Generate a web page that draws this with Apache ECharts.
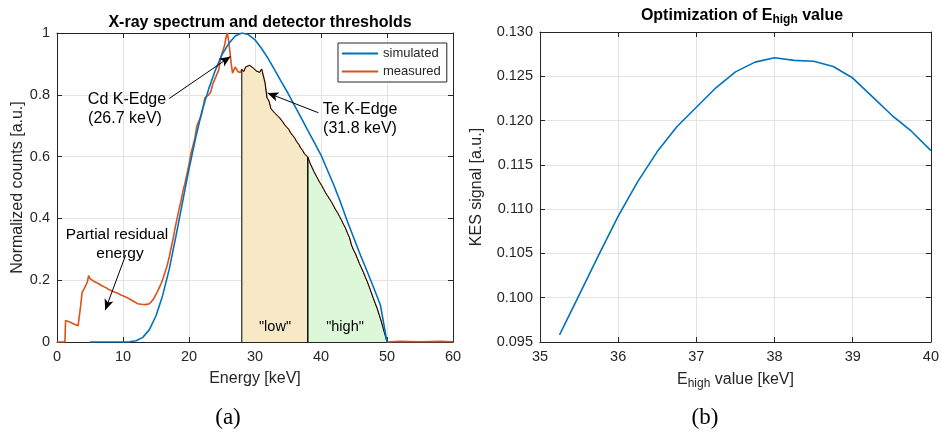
<!DOCTYPE html>
<html>
<head>
<meta charset="utf-8">
<script src="https://cdn.jsdelivr.net/npm/echarts@6/dist/echarts.min.js"></script>
<style>html,body{margin:0;padding:0;background:#fff}#chart{width:942px;height:436px}</style>
</head>
<body>
<div id="chart"></div>
<script>
// simulated spectrum (blue)
const simEnergy = [5,6,7,8,9,10,11,12,13,14,15,16,17,18,19,20,21,22,23,24,25,26,27,28,29,30,31,32,33,34,35,36,37,38,39,40,41,42,43,44,45,46,47,48,49,50];
const simCounts = [0,0,0,0,0,0,0.001,0.004,0.015,0.04,0.085,0.15,0.235,0.34,0.45,0.56,0.66,0.75,0.82,0.88,0.93,0.965,0.99,1.0,0.995,0.978,0.95,0.917,0.88,0.842,0.805,0.765,0.725,0.685,0.645,0.605,0.555,0.505,0.45,0.39,0.335,0.28,0.228,0.175,0.12,0];

// measured spectrum (orange)
const measEnergy = [0,0.5,1.2,1.3,1.6,2.0,2.4,2.8,3.2,3.4,3.6,3.8,4.1,4.4,4.6,4.8,5.0,5.3,5.6,5.9,6.2,6.5,6.8,7.1,7.4,7.7,8.0,8.3,8.6,8.9,9.2,9.5,9.8,10.1,10.4,10.7,11.0,11.3,11.6,11.9,12.2,12.5,12.8,13.1,13.4,13.7,14.0,14.3,14.6,14.9,15.2,15.5,15.8,16.1,16.4,16.7,17.0,17.3,17.6,17.9,18.2,18.5,18.8,19.1,19.4,19.7,20.0,20.3,20.6,20.9,21.2,21.5,21.8,22.1,22.4,22.7,23.0,23.3,23.6,23.9,24.2,24.5,24.8,25.1,25.4,25.6,25.8,26.0,26.2,26.4,26.6,26.8,27.0,27.2,27.4,27.6,27.8,
  28.0,28.3,28.6,28.9,29.2,29.5,29.8,30.1,30.4,30.7,31.0,31.3,31.5,31.8,32.1,32.4,32.7,33.0,33.3,33.6,33.9,34.2,34.5,34.8,35.1,35.4,35.7,36.0,36.3,36.6,36.9,37.2,37.5,37.8,38.0,
  38.3,38.6,38.9,39.2,39.5,39.8,40.1,40.4,40.7,41.0,41.3,41.6,41.9,42.2,42.5,42.8,43.1,43.4,43.7,44.0,44.3,44.6,44.9,45.2,45.5,45.8,46.1,46.4,46.7,47.0,47.3,47.6,47.9,48.2,48.5,48.8,49.1,49.4,49.7,50.0,52,55,58,60];
const measCounts = [0,0,0,0.07,0.068,0.064,0.06,0.056,0.053,0.058,0.12,0.16,0.172,0.185,0.195,0.215,0.205,0.202,0.196,0.2,0.19,0.192,0.182,0.18,0.176,0.172,0.168,0.17,0.163,0.165,0.158,0.155,0.151,0.148,0.146,0.141,0.139,0.134,0.132,0.126,0.124,0.12,0.122,0.118,0.121,0.117,0.124,0.13,0.138,0.15,0.162,0.176,0.19,0.208,0.228,0.248,0.275,0.305,0.335,0.37,0.4,0.43,0.458,0.49,0.515,0.545,0.575,0.61,0.635,0.66,0.7,0.715,0.73,0.755,0.79,0.79,0.8,0.81,0.835,0.85,0.855,0.88,0.92,0.94,0.96,0.985,1.0,0.975,0.94,0.9,0.87,0.865,0.89,0.895,0.875,0.87,0.872,
  0.882,0.875,0.89,0.885,0.895,0.898,0.885,0.878,0.884,0.872,0.883,0.878,0.84,0.79,0.78,0.755,0.75,0.74,0.735,0.728,0.722,0.712,0.702,0.695,0.688,0.676,0.668,0.66,0.648,0.64,0.628,0.62,0.608,0.61,0.598,
  0.58,0.566,0.552,0.54,0.528,0.516,0.506,0.494,0.482,0.472,0.462,0.452,0.44,0.428,0.418,0.406,0.394,0.38,0.368,0.352,0.338,0.314,0.298,0.286,0.27,0.254,0.24,0.226,0.21,0.195,0.178,0.16,0.142,0.125,0.108,0.088,0.068,0.045,0.022,0,0.002,0.001,0.002,0.001];

// detector thresholds [keV]
const thresholds = [28, 38, 50];

// optimization of E_high
const eHigh = [35.25,35.5,35.75,36,36.25,36.5,36.75,37,37.25,37.5,37.75,38,38.25,38.5,38.75,39,39.25,39.5,39.75,40];
const kesSignal = [0.0958,0.1003,0.1048,0.1092,0.1131,0.1165,0.1193,0.1215,0.1237,0.1255,0.1266,0.1271,0.1268,0.1267,0.1261,0.1248,0.1227,0.1206,0.1188,0.1166];

const FONT = 'Liberation Sans, Arial, sans-serif';
const AX = '#262626';

function zip(a, b) { return a.map((v, i) => [v, b[i]]); }
function band(lo, hi) {
  let pts = [[lo, 0]];
  measEnergy.forEach((e, i) => { if (e >= lo && e <= hi) pts.push([e, measCounts[i]]); });
  pts.push([hi, 0]);
  return pts;
}

function axisPair(grid, min, max, interval, name, nameGap, fmt, isX) {
  const main = {
    type: 'value', gridIndex: grid, min: min, max: max, interval: interval,
    position: isX ? 'bottom' : 'left',
    axisLine: {show: true, onZero: false, lineStyle: {color: AX, width: 1}},
    axisTick: {show: true, inside: true, length: 5, lineStyle: {color: AX}},
    axisLabel: {color: AX, fontSize: 14.5, fontFamily: FONT, margin: 7, formatter: fmt},
    splitLine: {show: true, lineStyle: {color: '#e3e3e3', width: 1}},
    name: name, nameLocation: 'middle', nameGap: nameGap,
    nameTextStyle: {color: AX, fontSize: 16, fontFamily: FONT,
      rich: {
        a: {fontSize: 16, fontFamily: FONT, color: AX, verticalAlign: 'top', lineHeight: 18},
        s: {fontSize: 12, fontFamily: FONT, color: AX, verticalAlign: 'bottom', lineHeight: 13, padding: [9, 0, 0, 0]}
      }}
  };
  const other = {
    type: 'value', gridIndex: grid, min: min, max: max, interval: interval,
    position: isX ? 'top' : 'right',
    axisLine: {show: true, onZero: false, lineStyle: {color: AX, width: 1}},
    axisTick: {show: true, inside: true, length: 5, lineStyle: {color: AX}},
    axisLabel: {show: false}, splitLine: {show: false}
  };
  return [main, other];
}

const chart = echarts.init(document.getElementById('chart'));

const xA = axisPair(0, 0, 60, 10, 'Energy [keV]', 29, null, true)
  .concat(axisPair(1, 35, 40, 1, '{a|E}{s|high}{a| value [keV]}', 26, null, true));
const yA = axisPair(0, 0, 1, 0.2, 'Normalized counts [a.u.]', 31, null, false)
  .concat(axisPair(1, 0.095, 0.13, 0.005, 'KES signal [a.u.]', 55, v => v.toFixed(3), false));

const arrowStyle = {color: '#000', width: 1, type: 'solid'};
const annFont = '16px ' + FONT;

const option = {
  animation: false,
  backgroundColor: '#fff',
  textStyle: {fontFamily: FONT},
  title: [
    {text: 'X-ray spectrum and detector thresholds', left: 255, top: 10, textAlign: 'center',
     textStyle: {fontSize: 16, fontWeight: 'bold', color: '#000', fontFamily: FONT}},
    {text: '{a|Optimization of E}{s|high}{a| value}', left: 737, top: 3, textAlign: 'center',
     textStyle: {rich: {
       a: {fontSize: 16, fontWeight: 'bold', color: '#000', fontFamily: FONT, verticalAlign: 'top', lineHeight: 18},
       s: {fontSize: 12, fontWeight: 'bold', color: '#000', fontFamily: FONT, verticalAlign: 'bottom', lineHeight: 13, padding: [9, 0, 0, 0]}
     }}}
  ],
  grid: [
    {left: 57, top: 33, width: 396, height: 309},
    {left: 540, top: 32, width: 396, height: 310}
  ],
  xAxis: xA,
  yAxis: yA,
  legend: {
    data: ['simulated', 'measured'], left: 338, top: 43, orient: 'vertical',
    backgroundColor: '#fff', borderColor: AX, borderWidth: 1, padding: [4, 6, 4, 4],
    itemGap: 5, itemWidth: 36, itemHeight: 2, icon: 'rect',
    textStyle: {fontSize: 13, color: AX, fontFamily: FONT}
  },
  series: [
    {name: 'measured', type: 'line', xAxisIndex: 0, yAxisIndex: 0, data: zip(measEnergy, measCounts),
     symbol: 'none', color: '#D95319', lineStyle: {width: 1.6, color: '#D95319'}, z: 2},
    {name: 'low', type: 'line', xAxisIndex: 0, yAxisIndex: 0, data: band(thresholds[0], thresholds[1]),
     symbol: 'none', lineStyle: {width: 1, color: '#000'}, areaStyle: {color: '#f8e9c6', opacity: 1}, z: 3},
    {name: 'high', type: 'line', xAxisIndex: 0, yAxisIndex: 0, data: band(thresholds[1], thresholds[2]),
     symbol: 'none', lineStyle: {width: 1, color: '#000'}, areaStyle: {color: '#dcf8d8', opacity: 1}, z: 3},
    {name: 'simulated', type: 'line', xAxisIndex: 0, yAxisIndex: 0, data: zip(simEnergy, simCounts),
     symbol: 'none', color: '#0072BD', lineStyle: {width: 1.6, color: '#0072BD'}, z: 4,
     markLine: {
       silent: true, symbol: ['none', 'arrow'], symbolSize: [7, 11],
       lineStyle: arrowStyle, itemStyle: {color: '#000'}, label: {show: false},
       data: [
         [{coord: [17.0, 0.788]}, {coord: [26.3, 0.924]}],
         [{coord: [39.6, 0.742]}, {coord: [31.9, 0.806]}],
         [{coord: [10.4, 0.281]}, {coord: [7.3, 0.103]}]
       ]
     }},
    {name: 'kes', type: 'line', xAxisIndex: 2, yAxisIndex: 2, data: zip(eHigh, kesSignal),
     symbol: 'none', color: '#0072BD', lineStyle: {width: 1.6, color: '#0072BD'}}
  ],
  graphic: [
    {type: 'text', x: 127, y: 100, z: 10, style: {text: 'Cd K-Edge', font: annFont, fill: '#000', textAlign: 'center', textVerticalAlign: 'middle'}},
    {type: 'text', x: 125, y: 119, z: 10, style: {text: '(26.7 keV)', font: annFont, fill: '#000', textAlign: 'center', textVerticalAlign: 'middle'}},
    {type: 'text', x: 360, y: 110, z: 10, style: {text: 'Te K-Edge', font: annFont, fill: '#000', textAlign: 'center', textVerticalAlign: 'middle'}},
    {type: 'text', x: 360, y: 129, z: 10, style: {text: '(31.8 keV)', font: annFont, fill: '#000', textAlign: 'center', textVerticalAlign: 'middle'}},
    {type: 'text', x: 117, y: 235, z: 10, style: {text: 'Partial residual', font: '15.5px ' + FONT, fill: '#000', textAlign: 'center', textVerticalAlign: 'middle'}},
    {type: 'text', x: 120, y: 254, z: 10, style: {text: 'energy', font: '15.5px ' + FONT, fill: '#000', textAlign: 'center', textVerticalAlign: 'middle'}},
    {type: 'text', x: 275, y: 327, z: 10, style: {text: '"low"', font: '14.5px ' + FONT, fill: '#000', textAlign: 'center', textVerticalAlign: 'middle'}},
    {type: 'text', x: 345, y: 327, z: 10, style: {text: '"high"', font: '14.5px ' + FONT, fill: '#000', textAlign: 'center', textVerticalAlign: 'middle'}},
    {type: 'text', x: 228, y: 418, z: 10, style: {text: '(a)', font: '23px Liberation Serif, serif', fill: '#000', textAlign: 'center', textVerticalAlign: 'middle'}},
    {type: 'text', x: 705, y: 418, z: 10, style: {text: '(b)', font: '23px Liberation Serif, serif', fill: '#000', textAlign: 'center', textVerticalAlign: 'middle'}}
  ]
};

chart.setOption(option);
</script>
</body>
</html>
